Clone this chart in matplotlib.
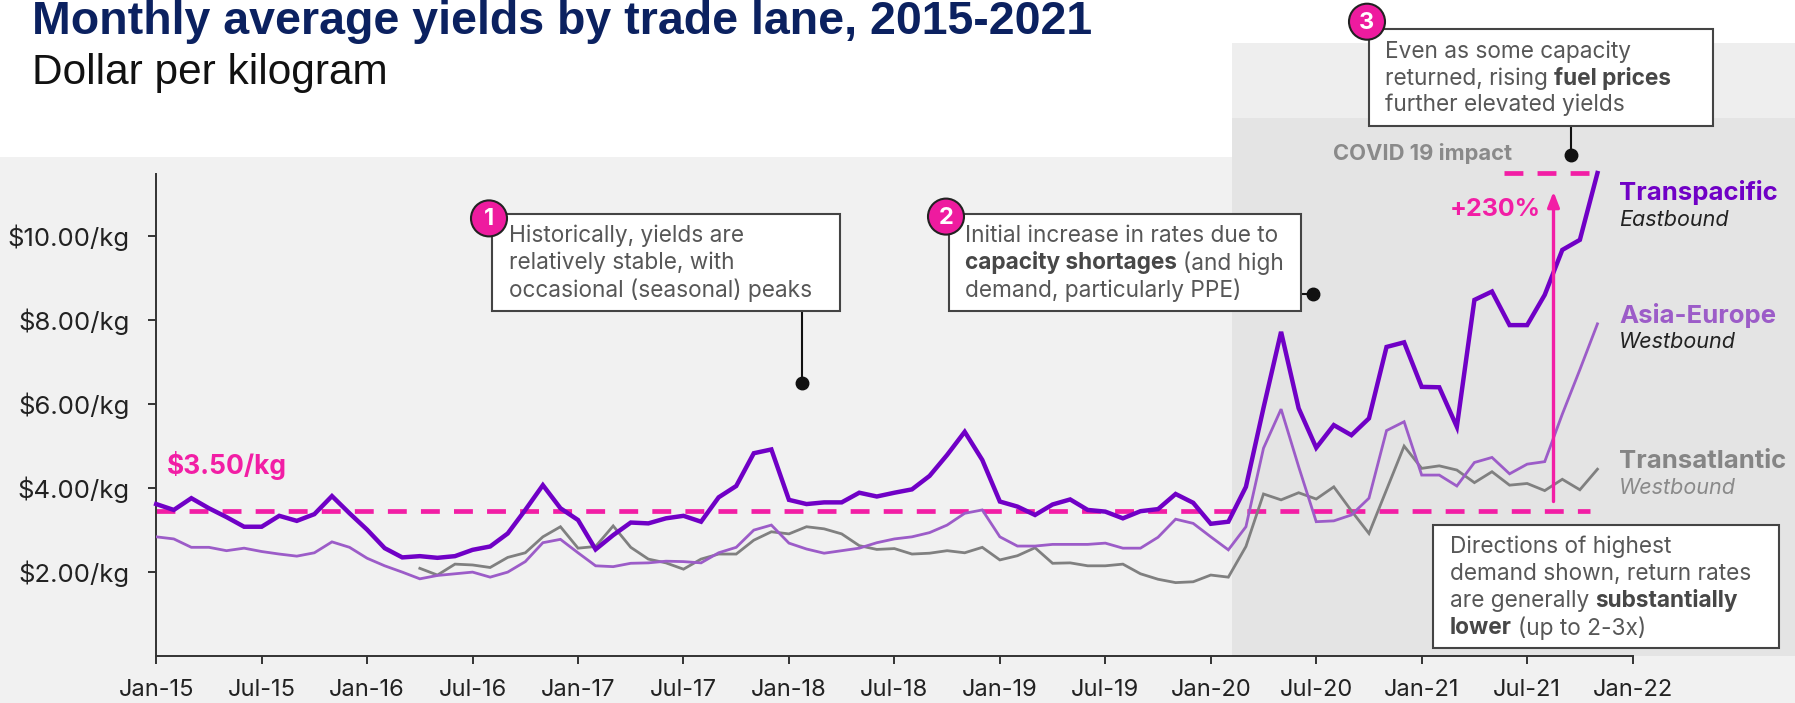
import matplotlib
matplotlib.use("Agg")
import matplotlib.pyplot as plt
from matplotlib.patches import Rectangle, Circle

# ---------------- data ----------------
tick_labels = ["Jan-15", "Jul-15", "Jan-16", "Jul-16", "Jan-17", "Jul-17", "Jan-18",
               "Jul-18", "Jan-19", "Jul-19", "Jan-20", "Jul-20", "Jan-21", "Jul-21", "Jan-22"]
tick_months = [0, 6, 12, 18, 24, 30, 36, 42, 48, 54, 60, 66, 72, 78, 84]

transpacific = [3.61, 3.47, 3.75, 3.51, 3.30, 3.07, 3.07, 3.33, 3.21, 3.37, 3.80, 3.39,
                3.00, 2.56, 2.34, 2.37, 2.33, 2.37, 2.52, 2.60, 2.91, 3.47, 4.06, 3.51,
                3.23, 2.53, 2.87, 3.17, 3.15, 3.27, 3.33, 3.19, 3.77, 4.04, 4.82, 4.91,
                3.71, 3.61, 3.65, 3.65, 3.88, 3.79, 3.88, 3.96, 4.28, 4.78, 5.33, 4.66,
                3.67, 3.55, 3.35, 3.60, 3.72, 3.47, 3.43, 3.27, 3.44, 3.49, 3.85, 3.64,
                3.14, 3.19, 4.02, 5.90, 7.71, 5.89, 4.95, 5.49, 5.25, 5.65, 7.35, 7.46,
                6.40, 6.39, 5.45, 8.47, 8.67, 7.87, 7.87, 8.59, 9.66, 9.90, 11.49]

asia_europe = [2.83, 2.78, 2.58, 2.58, 2.50, 2.56, 2.48, 2.42, 2.37, 2.45, 2.71, 2.58,
               2.32, 2.14, 1.99, 1.83, 1.91, 1.95, 1.99, 1.87, 1.99, 2.24, 2.69, 2.77,
               2.45, 2.14, 2.12, 2.20, 2.21, 2.25, 2.24, 2.21, 2.45, 2.58, 2.99, 3.11,
               2.68, 2.54, 2.44, 2.50, 2.56, 2.69, 2.78, 2.83, 2.93, 3.11, 3.39, 3.47,
               2.83, 2.61, 2.61, 2.65, 2.65, 2.65, 2.68, 2.56, 2.56, 2.82, 3.25, 3.15,
               2.83, 2.52, 3.07, 4.94, 5.87, 4.50, 3.19, 3.21, 3.35, 3.75, 5.36, 5.57,
               4.30, 4.30, 4.04, 4.60, 4.72, 4.33, 4.56, 4.62, 5.75, 6.81, 7.90]

transatlantic = [None] * 15 + [
               2.08, 1.92, 2.18, 2.16, 2.10, 2.34, 2.45, 2.83, 3.07,
               2.56, 2.60, 3.09, 2.58, 2.30, 2.21, 2.06, 2.30, 2.42, 2.42, 2.75, 2.95,
               2.90, 3.07, 3.02, 2.90, 2.62, 2.53, 2.55, 2.42, 2.44, 2.50, 2.45, 2.58,
               2.28, 2.38, 2.57, 2.20, 2.21, 2.14, 2.14, 2.18, 1.95, 1.82, 1.74, 1.76,
               1.92, 1.87, 2.60, 3.85, 3.71, 3.88, 3.73, 4.02, 3.45, 2.91, 3.95, 4.99,
               4.46, 4.52, 4.42, 4.12, 4.38, 4.06, 4.10, 3.93, 4.20, 3.95, 4.44]

y_ticks = [2, 4, 6, 8, 10]
y_tick_labels = ["$2.00/kg", "$4.00/kg", "$6.00/kg", "$8.00/kg", "$10.00/kg"]
baseline_level = 3.45
baseline_label = "$3.50/kg"
peak_level = 11.49
growth_label = "+230%"

# ---------------- style ----------------
W, H, DPI = 1795, 703, 100
FONT = ["Inter", "DejaVu Sans"]
TITLE_FONT = ["Liberation Sans", "DejaVu Sans"]
C_TP = "#7000c6"
C_AE = "#9c5cc8"
C_TA = "#808080"
MAG = "#f21ea5"
TXT = "#575757"
BOX_FS = 16.3

fig = plt.figure(figsize=(W / DPI, H / DPI), dpi=DPI, facecolor="white")

# background layer (pixel coordinates)
bg = fig.add_axes([0, 0, 1, 1], zorder=0)
bg.set_xlim(0, W); bg.set_ylim(H, 0); bg.axis("off")
bg.add_patch(Rectangle((0, 157), W, H - 157, color="#f1f1f1", lw=0))
bg.add_patch(Rectangle((1232, 43), W - 1232, 120, color="#eeeeee", lw=0))
bg.add_patch(Rectangle((1232, 118), W - 1232, 655.7 - 118, color="#e4e4e4", lw=0))

# main axes
x0, x1, y0, y1 = 156.2, 1632.6, 655.7, 173.9
ax = fig.add_axes([x0 / W, 1 - y0 / H, (x1 - x0) / W, (y0 - y1) / H], zorder=1)
ax.set_facecolor("none")
ax.set_xlim(0, 84)
ax.set_ylim(0, 11.47)
for s in ["top", "right"]:
    ax.spines[s].set_visible(False)
for s in ["left", "bottom"]:
    ax.spines[s].set_color("#333333")
    ax.spines[s].set_linewidth(1.4)
ax.set_xticks(tick_months)
ax.set_xticklabels(tick_labels, fontsize=17, family=FONT, color="#222222")
ax.set_yticks(y_ticks)
ax.set_yticklabels(y_tick_labels, fontsize=18.5, family=FONT, color="#222222")
ax.tick_params(axis="both", direction="out", length=6, width=1.4, color="#333333")
ax.tick_params(axis="y", pad=13)
ax.tick_params(axis="x", pad=11)

xs = list(range(len(transpacific)))
ax.plot(xs, transatlantic, color=C_TA, lw=2.0, zorder=3, solid_joinstyle="miter")
ax.plot(xs, asia_europe, color=C_AE, lw=2.0, zorder=4, solid_joinstyle="miter")
ax.plot(xs, transpacific, color=C_TP, lw=3.2, zorder=5, clip_on=False, solid_joinstyle="miter")

# baseline and peak dashed lines
ax.plot([0, 81.6], [baseline_level, baseline_level], color=MAG, lw=3.4,
        dashes=(4, 3), zorder=2, clip_on=False)
ax.plot([76.7, 81.7], [peak_level, peak_level], color=MAG, lw=3.4,
        dashes=(4, 3), zorder=2, clip_on=False)
ax.annotate("", xy=(79.5, 11.05), xytext=(79.5, 3.67),
            arrowprops=dict(arrowstyle="-|>,head_length=0.9,head_width=0.35",
                            color=MAG, lw=2.4, shrinkA=0, shrinkB=0), zorder=6)
ax.text(0.6, 4.52, baseline_label, fontsize=19, fontweight="bold", color=MAG,
        family=FONT, va="center", ha="left")
ax.text(73.6, 10.62, growth_label, fontsize=18, fontweight="bold", color=MAG,
        family=FONT, va="center", ha="left")

# overlay layer (pixel coordinates)
ov = fig.add_axes([0, 0, 1, 1], zorder=3)
ov.set_xlim(0, W); ov.set_ylim(H, 0); ov.axis("off")

fig.text(32 / W, 1 - 34 / H, "Monthly average yields by trade lane, 2015-2021",
         fontsize=33.5, fontweight="bold", color="#0b2160", family=TITLE_FONT,
         va="baseline", ha="left")
fig.text(32 / W, 1 - 84 / H, "Dollar per kilogram", fontsize=30.5, color="#111111",
         family=TITLE_FONT, va="baseline", ha="left")

ov.text(1333, 154, "COVID 19 impact", fontsize=15.8, fontweight="bold", color="#8a8a8a",
        family=FONT, va="center", ha="left")

renderer = fig.canvas.get_renderer()


def rich_line(x, y, segments, size=BOX_FS):
    probe1 = ov.text(0, 0, "x x", fontsize=size, family=FONT)
    probe2 = ov.text(0, 0, "xx", fontsize=size, family=FONT)
    space = probe1.get_window_extent(renderer).width - probe2.get_window_extent(renderer).width
    probe1.remove(); probe2.remove()
    cx = x
    for txt, bold in segments:
        t = ov.text(cx, y, txt, fontsize=size, family=FONT,
                    fontweight="bold" if bold else "normal",
                    color="#474747" if bold else TXT, va="center", ha="left")
        cx += t.get_window_extent(renderer).width + space


def box(l, t, r, b):
    ov.add_patch(Rectangle((l, t), r - l, b - t, facecolor="white",
                           edgecolor="#444444", lw=1.5, zorder=1))


def badge(cx, cy, label):
    ov.add_patch(Circle((cx, cy), 18, facecolor="#ee1b9f", edgecolor="#222222",
                        lw=1.5, zorder=4))
    ov.text(cx, cy + 1, label, fontsize=17, fontweight="bold", color="white",
            family=FONT, va="center", ha="center", zorder=5)


def connector(xa, ya, xb, yb):
    ov.plot([xa, xb], [ya, yb], color="#111111", lw=1.5, zorder=0.5)
    ov.plot([xb], [yb], marker="o", ms=9, color="#111111", zorder=0.6)


# annotation 1
connector(801.7, 311.3, 801.7, 383.2)
box(492.3, 213.8, 840, 311.3)
badge(489, 218.4, "1")
rich_line(509.3, 236, [("Historically, yields are", False)])
rich_line(509.3, 263, [("relatively stable, with", False)])
rich_line(509.3, 290, [("occasional (seasonal) peaks", False)])

# annotation 2
connector(1300.7, 294.3, 1313.3, 294.3)
box(948.8, 213.8, 1300.7, 311.3)
badge(946, 216.6, "2")
rich_line(964.6, 236, [("Initial increase in rates due to", False)])
rich_line(964.6, 263, [("capacity shortages", True), ("(and high", False)])
rich_line(964.6, 290, [("demand, particularly PPE)", False)])

# annotation 3
connector(1571, 126, 1571, 155)
box(1369, 29, 1713, 126)
badge(1367, 21.7, "3")
rich_line(1385, 52, [("Even as some capacity", False)])
rich_line(1385, 79, [("returned, rising", False), ("fuel prices", True)])
rich_line(1385, 105, [("further elevated yields", False)])

# note box
box(1433, 525, 1779, 648)
rich_line(1450, 547, [("Directions of highest", False)])
rich_line(1450, 574, [("demand shown, return rates", False)])
rich_line(1450, 601, [("are generally", False), ("substantially", True)])
rich_line(1450, 628, [("lower", True), ("(up to 2-3x)", False)])

# series labels
LBL_FS = 18.5
ov.text(1619, 192.5, "Transpacific", fontsize=LBL_FS, fontweight="bold", color=C_TP,
        family=FONT, va="center", ha="left")
ov.text(1619, 220.5, "Eastbound", fontsize=15.5, style="italic", color="#222222",
        family=FONT, va="center", ha="left")
ov.text(1619, 315.5, "Asia-Europe", fontsize=LBL_FS, fontweight="bold", color=C_AE,
        family=FONT, va="center", ha="left")
ov.text(1619, 342.5, "Westbound", fontsize=15.5, style="italic", color="#222222",
        family=FONT, va="center", ha="left")
ov.text(1619, 461.5, "Transatlantic", fontsize=LBL_FS, fontweight="bold", color="#858585",
        family=FONT, va="center", ha="left")
ov.text(1619, 487.5, "Westbound", fontsize=15.5, style="italic", color="#8a8a8a",
        family=FONT, va="center", ha="left")

fig.savefig("out.png", dpi=DPI, facecolor="white")
